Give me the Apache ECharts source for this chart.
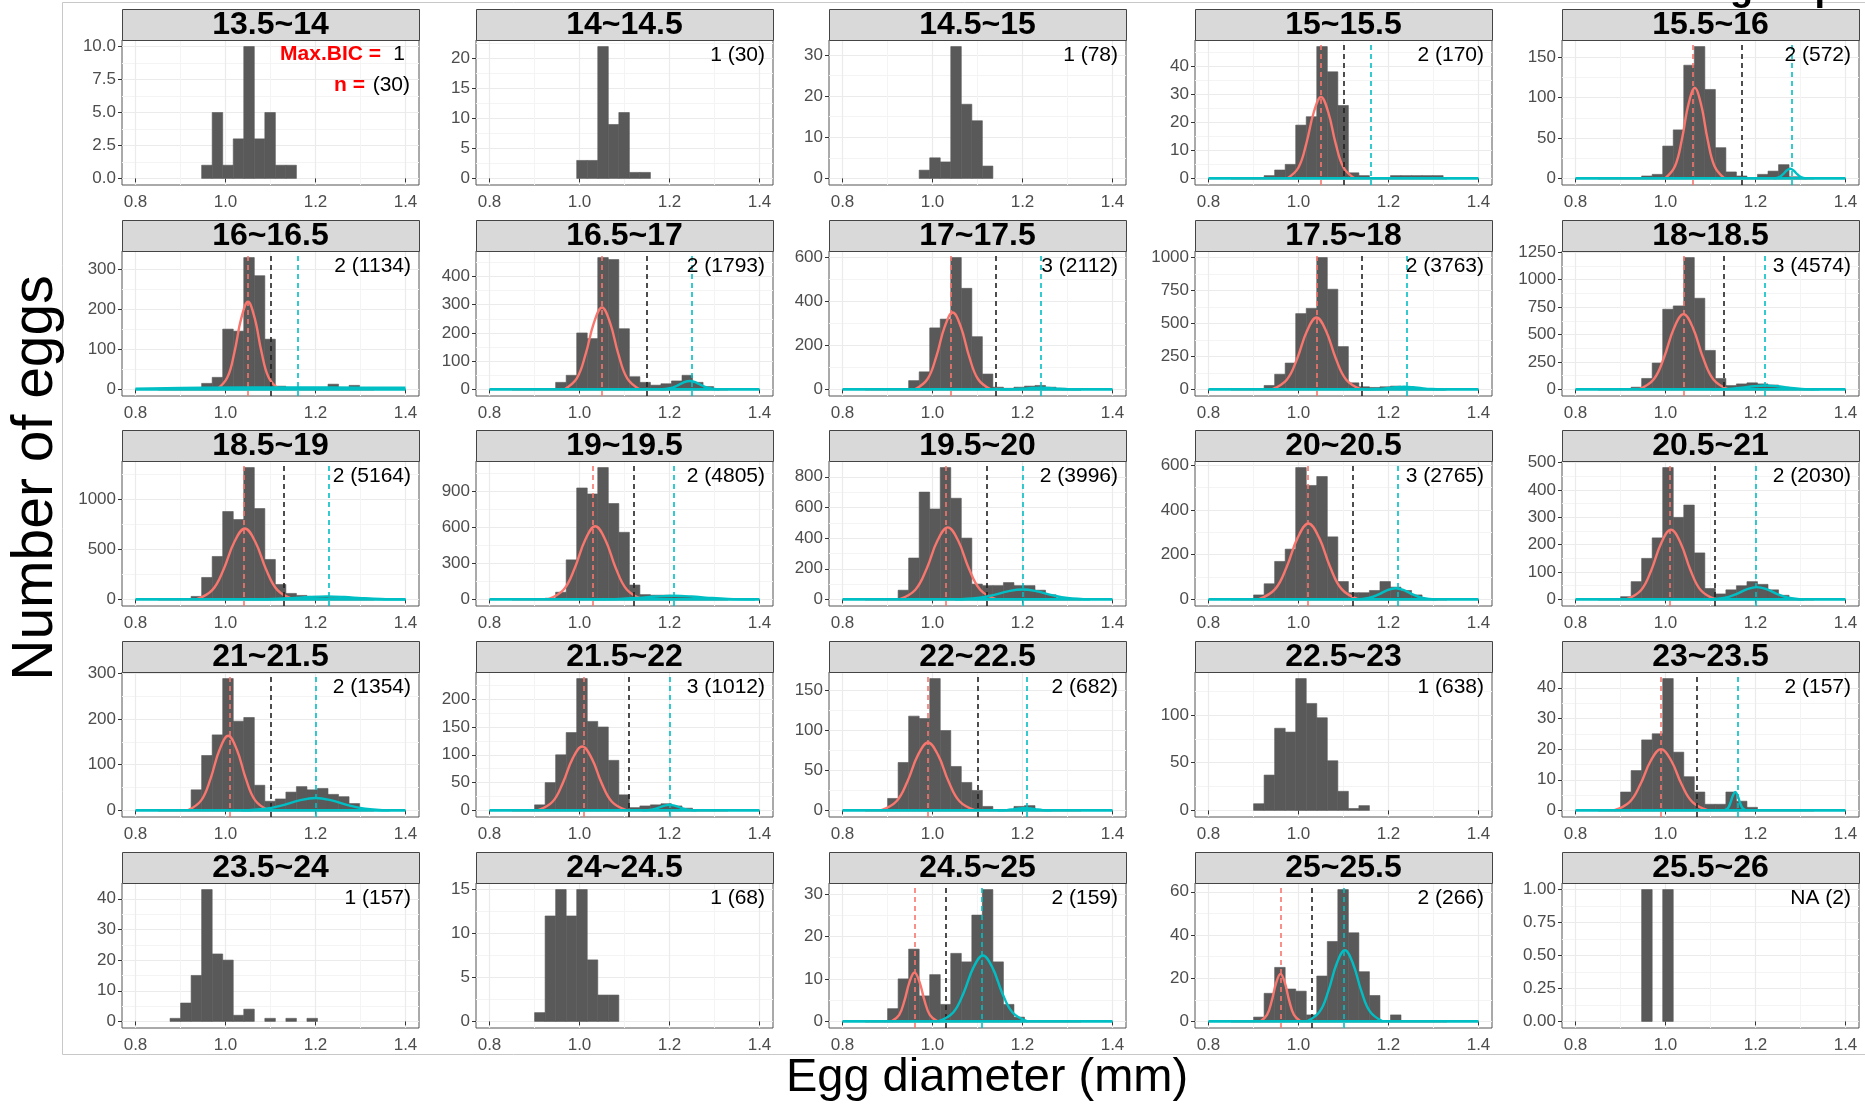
<!DOCTYPE html>
<html><head><meta charset="utf-8">
<script src="https://cdn.jsdelivr.net/npm/echarts@6/dist/echarts.min.js"></script>
<style>html,body{margin:0;padding:0;background:#fff}#c{width:1865px;height:1109px}</style>
</head><body><div id="c"></div>
<script>
// ---------------- DATA ----------------
const panelLabels = ['13.5~14','14~14.5','14.5~15','15~15.5','15.5~16','16~16.5','16.5~17','17~17.5','17.5~18','18~18.5','18.5~19','19~19.5','19.5~20','20~20.5','20.5~21','21~21.5','21.5~22','22~22.5','22.5~23','23~23.5','23.5~24','24~24.5','24.5~25','25~25.5','25.5~26'];
const annotations = ['', '1 (30)', '1 (78)', '2 (170)', '2 (572)', '2 (1134)', '2 (1793)', '3 (2112)', '2 (3763)', '3 (4574)', '2 (5164)', '2 (4805)', '2 (3996)', '3 (2765)', '2 (2030)', '2 (1354)', '3 (1012)', '2 (682)', '1 (638)', '2 (157)', '1 (157)', '1 (68)', '2 (159)', '2 (266)', 'NA (2)'];
const legendKeys = ['Max.BIC =', 'n ='];
const legendVals = ['1', '(30)'];
const xTickValues = [0.8, 1.0, 1.2, 1.4];
const xMinorValues = [0.9, 1.1, 1.3];
const BIN_EDGE0 = 0.7832;
const BIN_WIDTH = 0.0234;
const firstBin = [7,9,8,6,7, 7,7,7,6,6, 6,6,6,5,5, 6,5,5,5,5, 4,5,5,5,7];
const binCounts = [
  [1,5,1,3,10,3,5,1,1],
  [3,3,22,9,11,1,1],
  [2,5,4,32,18,14,3],
  [1,3,5,19,22,47,38,26,2,1,0,0,1,1,1,1,1],
  [3,5,40,60,140,163,110,38,8,3,1,5,9,17,2],
  [15,30,150,145,328,283,125,8,3,2,2,3,13,5,10,2],
  [25,50,200,180,467,460,215,45,25,15,20,30,50,25,10],
  [40,80,280,320,600,460,240,70,10,5,10,15,18,10,5],
  [30,115,200,575,615,1000,760,325,50,20,15,20,25,20,10],
  [20,100,240,730,760,1200,830,355,100,35,50,60,50,40,20,8],
  [30,220,430,880,800,1320,910,400,150,60,40,30,25,20,15,10],
  [10,60,330,930,880,1100,800,560,120,40,35,35,30,25,15,10],
  [60,270,700,590,860,660,400,100,90,90,110,90,90,60,30,10],
  [20,70,170,225,590,510,550,280,80,30,30,40,80,55,40,20],
  [10,65,150,225,482,300,345,170,40,20,35,50,65,55,35,15],
  [45,120,165,288,195,203,55,20,25,40,52,45,48,35,30,15],
  [10,50,100,140,237,160,150,90,28,5,8,10,12,8,4],
  [15,60,118,115,165,100,55,35,25,5,0,1,5,6],
  [7,37,86,82,138,112,97,52,20,2,5],
  [6,13,23,25,43,19,11,6,2,2,6,3,1],
  [1,6,15,43,22,20,2,4,0,1,0,1,0,1],
  [1,12,15,12,15,7,3,3],
  [3,10,17,6,11,4,16,14,25,31,14,4,1],
  [2,13,25,15,14,3,21,37,61,41,23,12,0,3],
  [1,0,1]
];
const yTickLabels = [
  ['0.0','2.5','5.0','7.5','10.0'], ['0','5','10','15','20'], ['0','10','20','30'], ['0','10','20','30','40'], ['0','50','100','150'],
  ['0','100','200','300'], ['0','100','200','300','400'], ['0','200','400','600'], ['0','250','500','750','1000'], ['0','250','500','750','1000','1250'],
  ['0','500','1000'], ['0','300','600','900'], ['0','200','400','600','800'], ['0','200','400','600'], ['0','100','200','300','400','500'],
  ['0','100','200','300'], ['0','50','100','150','200'], ['0','50','100','150'], ['0','50','100'], ['0','10','20','30','40'],
  ['0','10','20','30','40'], ['0','5','10','15'], ['0','10','20','30'], ['0','20','40','60'], ['0.00','0.25','0.50','0.75','1.00']
];
const redMeanLine = [null,null,null,1.05,1.065, 1.05,1.05,1.045,1.042,1.041, 1.044,1.035,1.034,1.022,1.012, 1.006,1.006,0.992,null,0.99, null,null,0.959,0.96,null];
const cutLine     = [null,null,null,1.105,1.17, 1.102,1.15,1.142,1.143,1.128, 1.13,1.12,1.12,1.116,1.108, 1.104,1.11,1.10,null,1.07, null,null,1.033,1.03,null];
const cyanMeanLine= [null,null,null,1.163,1.277, 1.155,1.245,1.238,1.236,1.222, 1.225,1.212,1.2,1.216,1.203, 1.2,1.2,1.206,null,1.155, null,null,1.112,1.103,null];
const redBaseline = [[0.85,0],[1.33,0]];
const cyanBaseline = [[0.8,0],[1.4,0]];
const redCurves = [
  null, null, null,
  [[0.975,0],[1.0,3.9],[1.0175,12.5],[1.0338,23.5],[1.05,29],[1.0663,23.5],[1.0825,12.5],[1.1,3.9],[1.125,0]],
  [[0.999,0],[1.021,15.1],[1.0364,48.2],[1.0507,90.7],[1.065,112],[1.0793,90.7],[1.0936,48.2],[1.109,15.1],[1.131,0]],
  [[0.981,0],[1.004,29.4],[1.0201,93.7],[1.035,176.6],[1.05,218],[1.065,176.6],[1.0799,93.7],[1.096,29.4],[1.119,0]],
  [[0.966,0],[0.994,39.2],[1.0136,124.7],[1.0318,234.9],[1.05,290],[1.0682,234.9],[1.0864,124.7],[1.106,39.2],[1.134,0]],
  [[0.961,0],[0.989,47.3],[1.0086,150.5],[1.0268,283.5],[1.045,350],[1.0632,283.5],[1.0814,150.5],[1.101,47.3],[1.129,0]],
  [[0.941,0],[0.974,73.6],[0.9971,234.4],[1.0186,441.5],[1.04,545],[1.0615,441.5],[1.0829,234.4],[1.106,73.6],[1.139,0]],
  [[0.941,0],[0.974,92.5],[0.9971,294.6],[1.0186,554.9],[1.04,685],[1.0615,554.9],[1.0829,294.6],[1.106,92.5],[1.139,0]],
  [[0.935,0],[0.971,95.9],[0.9962,305.3],[1.0196,575.1],[1.043,710],[1.0664,575.1],[1.0898,305.3],[1.115,95.9],[1.151,0]],
  [[0.93,0],[0.965,82.4],[0.9895,262.3],[1.0123,494.1],[1.035,610],[1.0578,494.1],[1.0805,262.3],[1.105,82.4],[1.14,0]],
  [[0.926,0],[0.962,63.5],[0.9872,202.1],[1.0106,380.7],[1.034,470],[1.0574,380.7],[1.0808,202.1],[1.106,63.5],[1.142,0]],
  [[0.911,0],[0.948,45.9],[0.9739,146.2],[0.998,275.4],[1.022,340],[1.046,275.4],[1.0701,146.2],[1.096,45.9],[1.133,0]],
  [[0.913,0],[0.946,34.4],[0.9691,109.7],[0.9906,206.6],[1.012,255],[1.0335,206.6],[1.0549,109.7],[1.078,34.4],[1.111,0]],
  [[0.916,0],[0.946,22],[0.967,70.1],[0.9865,132],[1.006,163],[1.0255,132],[1.045,70.1],[1.066,22],[1.096,0]],
  [[0.907,0],[0.94,15.5],[0.9631,49.5],[0.9846,93.2],[1.006,115],[1.0275,93.2],[1.0489,49.5],[1.072,15.5],[1.105,0]],
  [[0.885,0],[0.92,11.5],[0.9445,36.6],[0.9673,68.9],[0.99,85],[1.0128,68.9],[1.0355,36.6],[1.06,11.5],[1.095,0]],
  null,
  [[0.885,0],[0.92,2.7],[0.9445,8.6],[0.9673,16.2],[0.99,20],[1.0128,16.2],[1.0355,8.6],[1.06,2.7],[1.095,0]],
  null, null,
  [[0.909,0],[0.926,1.55],[0.9379,4.95],[0.949,9.3],[0.96,11.5],[0.9711,9.3],[0.9821,4.95],[0.994,1.55],[1.011,0]],
  [[0.915,0],[0.93,3],[0.9405,9.5],[0.9503,17.8],[0.96,22],[0.9698,17.8],[0.9795,9.5],[0.99,3],[1.005,0]],
  null
];
const cyanCurves = [
  null, null, null, null,
  [[1.241,0],[1.253,1.6],[1.2614,5.2],[1.2692,9.7],[1.277,12],[1.2848,9.7],[1.2926,5.2],[1.301,1.6],[1.313,0]],
  [[0.8,2],[0.95,4],[1.15,5],[1.3,4.5],[1.4,4]],
  [[1.179,0],[1.201,4.1],[1.2164,12.9],[1.2307,24.3],[1.245,30],[1.2593,24.3],[1.2736,12.9],[1.289,4.1],[1.311,0]],
  [[1.15,0],[1.18,1.1],[1.201,3.4],[1.2205,6.5],[1.24,8],[1.2595,6.5],[1.279,3.4],[1.30,1.1],[1.33,0]],
  [[1.145,0],[1.175,2.7],[1.196,8.6],[1.2155,16.2],[1.235,20],[1.2545,16.2],[1.274,8.6],[1.295,2.7],[1.325,0]],
  [[1.102,0],[1.142,4.7],[1.17,15.1],[1.196,28.4],[1.222,35],[1.248,28.4],[1.274,15.1],[1.302,4.7],[1.342,0]],
  [[1.045,0],[1.105,4.1],[1.147,12.9],[1.186,24.3],[1.225,30],[1.264,24.3],[1.303,12.9],[1.345,4.1],[1.4,0.4]],
  [[1.03,0],[1.09,4.1],[1.132,12.9],[1.171,24.3],[1.21,30],[1.249,24.3],[1.288,12.9],[1.33,4.1],[1.39,0]],
  [[1.05,0],[1.10,8.8],[1.135,28],[1.1675,52.7],[1.2,65],[1.2325,52.7],[1.265,28],[1.30,8.8],[1.35,0]],
  [[1.126,0],[1.156,6.8],[1.177,21.5],[1.1965,40.5],[1.216,50],[1.2355,40.5],[1.255,21.5],[1.276,6.8],[1.306,0]],
  [[1.098,0],[1.133,6.1],[1.1575,19.4],[1.1803,36.5],[1.203,45],[1.2258,36.5],[1.2485,19.4],[1.273,6.1],[1.308,0]],
  [[1.035,0],[1.09,3.6],[1.1285,11.6],[1.1643,21.9],[1.2,27],[1.2358,21.9],[1.2715,11.6],[1.31,3.6],[1.365,0]],
  [[1.14,0],[1.16,1.4],[1.174,4.3],[1.187,8.1],[1.2,10],[1.213,8.1],[1.226,4.3],[1.24,1.4],[1.26,0]],
  [[1.145,0],[1.165,0.4],[1.179,1.3],[1.192,2.4],[1.205,3],[1.218,2.4],[1.231,1.3],[1.245,0.4],[1.265,0]],
  null,
  [[1.131,0],[1.139,0.8],[1.1446,2.6],[1.1498,4.9],[1.155,6],[1.1602,4.9],[1.1654,2.6],[1.171,0.8],[1.179,0]],
  null, null,
  [[1.013,0],[1.046,2.1],[1.0691,6.7],[1.0906,12.6],[1.112,15.5],[1.1335,12.6],[1.1549,6.7],[1.178,2.1],[1.211,0]],
  [[1.019,0],[1.047,4.5],[1.0666,14.2],[1.0848,26.7],[1.103,33],[1.1212,26.7],[1.1394,14.2],[1.159,4.5],[1.187,0]],
  null
];

// ---------------- LAYOUT / STYLE ----------------
const COL_LEFT = [122, 476, 829, 1195, 1562];
const ROW_TOP = [9, 220, 430, 641, 852];
const PANEL_W = 297, STRIP_H = 31, PLOT_H = 145;
const FONT = 'Liberation Sans';
const RED = '#F8766D', CYAN = '#00BFC4', BAR = '#595959';
const TICK_COLOR = '#4D4D4D';

function histRender(params, api) {
  const x = api.value(0), y = api.value(1);
  const a = api.coord([x - BIN_WIDTH / 2, y]);
  const b = api.coord([x + BIN_WIDTH / 2, 0]);
  return { type: 'rect', shape: { x: a[0], y: a[1], width: b[0] - a[0], height: b[1] - a[1] },
    style: { fill: BAR, stroke: BAR, lineWidth: 0.6 } };
}

const grids = [], xAxes = [], yAxes = [], series = [], graphics = [];

graphics.push({ type: 'rect', silent: true, z: 0, shape: { x: 62.5, y: 2.5, width: 1850, height: 1052 }, style: { fill: 'none', stroke: '#C8C8C8', lineWidth: 1 } });

for (let i = 0; i < 25; i++) {
  const r = Math.floor(i / 5), c = i % 5;
  const L = COL_LEFT[c], T = ROW_TOP[r];
  const plotTop = T + STRIP_H;
  grids.push({ left: L, top: plotTop, width: PANEL_W, height: PLOT_H, show: true, borderColor: '#555', borderWidth: 1, backgroundColor: '#fff', containLabel: false, outerBoundsMode: 'none' });

  xAxes.push({ type: 'value', gridIndex: i, min: 0.77, max: 1.43,
    axisLine: { show: false },
    axisTick: { show: true, customValues: xTickValues, length: 4, lineStyle: { color: '#333', width: 1 } },
    axisLabel: { customValues: xTickValues, formatter: v => Number(v).toFixed(1), color: TICK_COLOR, fontSize: 17, fontFamily: FONT, margin: 9 },
    splitLine: { show: true, lineStyle: { color: '#EBEBEB', width: 1.2 } } });
  xAxes.push({ type: 'value', gridIndex: i, position: 'top', min: 0.77, max: 1.43,
    axisLine: { show: false }, axisTick: { show: false, customValues: xMinorValues },
    axisLabel: { show: false, customValues: xMinorValues },
    splitLine: { show: true, lineStyle: { color: '#F4F4F4', width: 1 } } });

  const M = Math.max(...binCounts[i]);
  const ymin = -0.05 * M, ymax = 1.05 * M;
  const labels = yTickLabels[i];
  const ticks = labels.map(parseFloat);
  const step = ticks[1] - ticks[0];
  const minor = [];
  for (let k = 0; k < ticks.length; k++) { const m = ticks[k] + step / 2; if (m < ymax) minor.push(m); }
  yAxes.push({ type: 'value', gridIndex: i, min: ymin, max: ymax,
    axisLine: { show: false },
    axisTick: { show: true, customValues: ticks, length: 4, lineStyle: { color: '#333', width: 1 } },
    axisLabel: { customValues: ticks, color: TICK_COLOR, fontSize: 17, fontFamily: FONT, margin: 6,
      formatter: v => { let best = 0; for (let k = 1; k < ticks.length; k++) if (Math.abs(ticks[k] - v) < Math.abs(ticks[best] - v)) best = k; return labels[best]; } },
    splitLine: { show: true, lineStyle: { color: '#EBEBEB', width: 1.2 } } });
  yAxes.push({ type: 'value', gridIndex: i, position: 'right', min: ymin, max: ymax,
    axisLine: { show: false }, axisTick: { show: false, customValues: minor },
    axisLabel: { show: false, customValues: minor },
    splitLine: { show: true, lineStyle: { color: '#F4F4F4', width: 1 } } });

  const ax = 2 * i;
  const hist = binCounts[i].map((v, j) => [BIN_EDGE0 + (firstBin[i] + j + 0.5) * BIN_WIDTH, v]).filter(d => d[1] > 0);
  series.push({ type: 'custom', xAxisIndex: ax, yAxisIndex: ax, data: hist, renderItem: histRender, silent: true, z: 2, animation: false });

  const lineBase = { type: 'line', xAxisIndex: ax, yAxisIndex: ax, symbol: 'none', silent: true, animation: false };
  if (redCurves[i]) {
    series.push(Object.assign({}, lineBase, { data: redBaseline, z: 3, lineStyle: { color: RED, width: 2.4 } }));
    series.push(Object.assign({}, lineBase, { data: redCurves[i], smooth: 0.4, z: 4, lineStyle: { color: RED, width: 2.4 },
      markLine: { silent: true, symbol: ['none', 'none'], label: { show: false }, animation: false,
        data: [
          { xAxis: redMeanLine[i], lineStyle: { color: RED, type: [5, 4], width: 1.6 } },
          { xAxis: cutLine[i], lineStyle: { color: '#222', type: [5, 4], width: 1.6 } },
          { xAxis: cyanMeanLine[i], lineStyle: { color: CYAN, type: [5, 4], width: 1.6 } }
        ] } }));
    series.push(Object.assign({}, lineBase, { data: cyanBaseline, z: 5, lineStyle: { color: CYAN, width: 2.6 } }));
    if (cyanCurves[i]) series.push(Object.assign({}, lineBase, { data: cyanCurves[i], smooth: 0.4, z: 6, lineStyle: { color: CYAN, width: 2.4 } }));
  }

  graphics.push({ type: 'rect', silent: true, z: 10, shape: { x: L + 0.5, y: T + 0.5, width: PANEL_W, height: STRIP_H }, style: { fill: '#D9D9D9', stroke: '#444', lineWidth: 1 } });
  graphics.push({ type: 'text', silent: true, z: 11, x: L + PANEL_W / 2, y: T + STRIP_H / 2 + 1,
    style: { text: panelLabels[i], fontSize: 32, fontWeight: 'bold', fontFamily: FONT, fill: '#000', align: 'center', verticalAlign: 'middle', textAlign: 'center', textVerticalAlign: 'middle' } });

  if (annotations[i]) {
    graphics.push({ type: 'text', silent: true, z: 11, x: L + PANEL_W - 8, y: plotTop + 15,
      style: { text: annotations[i], fontSize: 21, fontFamily: FONT, fill: '#000', align: 'right', verticalAlign: 'middle', textAlign: 'right', textVerticalAlign: 'middle' } });
  }
}

(function () {
  const R = COL_LEFT[0] + PANEL_W, top = ROW_TOP[0] + STRIP_H;
  const txt = (t, x, y, opts) => graphics.push({ type: 'text', silent: true, z: 11, x, y,
    style: Object.assign({ text: t, fontFamily: FONT, align: 'right', verticalAlign: 'middle', textAlign: 'right', textVerticalAlign: 'middle' }, opts) });
  txt(legendVals[0], R - 14, top + 14, { fontSize: 21, fill: '#000' });
  txt(legendKeys[0], R - 38, top + 14, { fontSize: 21, fontWeight: 'bold', fill: '#FF0000' });
  txt(legendVals[1], R - 9, top + 45, { fontSize: 21, fill: '#000' });
  txt(legendKeys[1], R - 54, top + 45, { fontSize: 21, fontWeight: 'bold', fill: '#FF0000' });
})();

graphics.push({ type: 'text', silent: true, z: 11, x: 987, y: 1078,
  style: { text: 'Egg diameter (mm)', fontSize: 47, fontFamily: FONT, fill: '#000', align: 'center', verticalAlign: 'middle', textAlign: 'center', textVerticalAlign: 'middle' } });
graphics.push({ type: 'text', silent: true, z: 11, x: 36, y: 478, rotation: Math.PI / 2,
  style: { text: 'Number of eggs', fontSize: 57, fontFamily: FONT, fill: '#000', align: 'center', verticalAlign: 'middle', textAlign: 'center', textVerticalAlign: 'middle' } });
graphics.push({ type: 'text', silent: true, z: 11, x: 1730, y: 9,
  style: { text: 'group', fontSize: 38, fontWeight: 'bold', fontFamily: FONT, fill: '#000', align: 'left', verticalAlign: 'bottom', textAlign: 'left', textVerticalAlign: 'bottom' } });

const chart = echarts.init(document.getElementById('c'), null, { renderer: 'canvas' });
chart.setOption({
  animation: false,
  backgroundColor: '#fff',
  textStyle: { fontFamily: FONT },
  grid: grids, xAxis: xAxes, yAxis: yAxes, series: series, graphic: graphics
});
</script>
</body></html>
